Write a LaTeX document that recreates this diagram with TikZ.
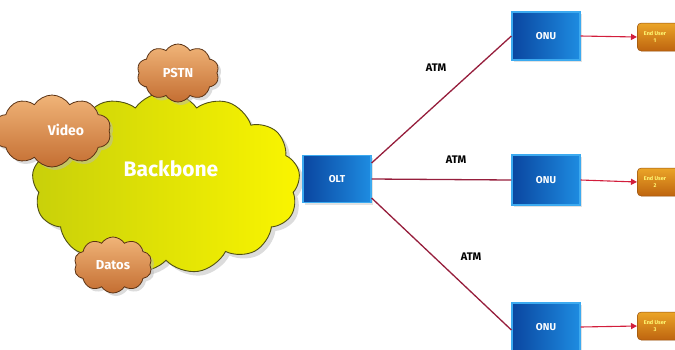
\documentclass[tikz,border=0pt]{standalone}
\usepackage{fontspec}
\setmainfont{Fira Sans}
\usetikzlibrary{shapes.symbols,shadows,arrows.meta}
\definecolor{ybright}{RGB}{250,245,0}
\definecolor{ydark}{RGB}{200,208,10}
\definecolor{yline}{RGB}{80,80,20}
\definecolor{olight}{RGB}{240,180,120}
\definecolor{odark}{RGB}{196,110,50}
\definecolor{oline}{RGB}{90,50,20}
\definecolor{bdark}{RGB}{10,70,160}
\definecolor{blight}{RGB}{30,140,225}
\definecolor{brim}{RGB}{60,170,240}
\definecolor{eulight}{RGB}{235,165,40}
\definecolor{eudark}{RGB}{190,100,15}
\definecolor{maroon}{RGB}{150,30,60}
\definecolor{arrred}{RGB}{210,30,60}
\tikzset{
  bigcloud/.style={cloud, cloud puffs=13, cloud puff arc=110, aspect=1.5,
    draw=yline, line width=0.9pt, left color=ydark, right color=ybright,
    drop shadow={shadow xshift=4pt, shadow yshift=-4pt, fill=gray!55},
    inner sep=0pt},
  smallcloud/.style={cloud, cloud puffs=10, cloud puff arc=115, aspect=1.4,
    draw=oline, line width=0.8pt, bottom color=odark, top color=olight,
    drop shadow={shadow xshift=3pt, shadow yshift=-3pt, fill=gray!55},
    font=\bfseries\fontsize{13}{15}\selectfont, text=white, inner sep=0pt},
  bluebox/.style={draw=brim, line width=1.2pt, left color=bdark, right color=blight,
    drop shadow={shadow xshift=2pt, shadow yshift=-2pt, fill=gray!45},
    font=\bfseries\fontsize{10}{12}\selectfont, text=white, inner sep=0pt},
  eubox/.style={draw=eudark!80!black, line width=0.5pt, rounded corners=4pt,
    top color=eulight, bottom color=eudark, inner sep=0pt,
    minimum width=70pt, minimum height=28pt, anchor=west},
  eutext/.style={align=center, font=\bfseries\fontsize{5.5}{6.5}\selectfont,
    text=yellow!55!white, inner sep=0pt},
  link/.style={draw=maroon, line width=1.3pt},
  uarrow/.style={draw=arrred, line width=1.1pt, -{Triangle[length=6pt,width=6pt]}},
  atm/.style={font=\bfseries\fontsize{11}{13}\selectfont, text=black}
}
\begin{document}
\begin{tikzpicture}[x=1pt,y=-1pt]
\useasboundingbox (0,0) rectangle (675,349);
\begin{scope}
\clip (0,0) rectangle (675,349);
% clouds
\node[bigcloud, minimum width=268pt, minimum height=182pt] (bb) at (166,183) {};
\node[text=white, font=\bfseries\fontsize{21}{24}\selectfont] (bbt) at (171,169) {Backbone};
\node[smallcloud, minimum width=82pt, minimum height=58pt] (pstn) at (178,73) {PSTN};
\node[smallcloud, minimum width=118pt, minimum height=72pt] (video) at (52,131) {};
\node[text=white, font=\bfseries\fontsize{14}{16}\selectfont] (videot) at (66,130) {Video};
\node[smallcloud, minimum width=78pt, minimum height=56pt] (datos) at (113,265) {Datos};
% boxes
\node[bluebox, minimum width=68pt, minimum height=47pt] (olt) at (337,179) {OLT};
\node[bluebox, minimum width=68pt, minimum height=48pt] (onu1) at (546,36) {ONU};
\node[bluebox, minimum width=68pt, minimum height=50pt] (onu2) at (546,180) {ONU};
\node[bluebox, minimum width=68pt, minimum height=48pt] (onu3) at (546,327) {ONU};
\node[eubox] (eu1) at (637,37) {};
\node[eubox] (eu2) at (637,182) {};
\node[eubox] (eu3) at (637,326) {};
\node[eutext] (eu1t) at (655,37) {End User\\1};
\node[eutext] (eu2t) at (655,182) {End User\\2};
\node[eutext] (eu3t) at (655,326) {End User\\3};
% links
\draw[link] ([yshift=16pt]olt.east) -- (onu1.west);
\draw[link] (olt.east) -- (onu2.west);
\draw[link] ([yshift=-19pt]olt.east) -- ([yshift=-3pt]onu3.west);
\draw[uarrow] (onu1.east) -- (eu1.west);
\draw[uarrow] (onu2.east) -- (eu2.west);
\draw[uarrow] (onu3.east) -- (eu3.west);
% labels
\node[atm] (atm1) at (436,68) {ATM};
\node[atm] (atm2) at (456,160) {ATM};
\node[atm] (atm3) at (471,257) {ATM};
\end{scope}
\end{tikzpicture}
\end{document}
